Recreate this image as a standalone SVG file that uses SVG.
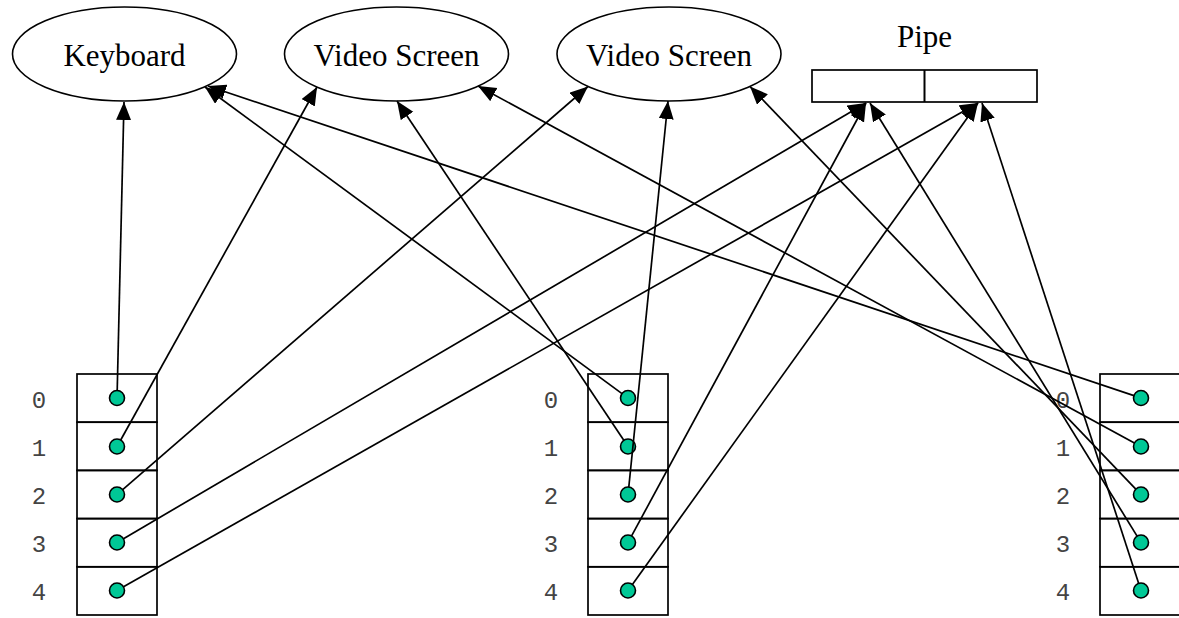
<svg xmlns="http://www.w3.org/2000/svg" width="1179" height="618" viewBox="0 0 1179 618">
<defs>
<style>
.ell{fill:#fff;stroke:#000;stroke-width:1.6}
.lbl{font-family:"Liberation Serif","Times New Roman",serif;font-size:31px;fill:#000;text-anchor:middle}
.cell{fill:none;stroke:#000;stroke-width:1.7}
.dot{fill:#00c896;stroke:#000;stroke-width:1.6}
.idx{font-family:"Liberation Mono","Courier New",monospace;font-size:24px;fill:#444;text-anchor:middle}
.conn line{stroke:#000;stroke-width:1.7;marker-end:url(#arr)}
</style>
<marker id="arr" markerUnits="userSpaceOnUse" markerWidth="20" markerHeight="16" refX="18" refY="7.5" orient="auto">
<path d="M0,0 L18,7.5 L0,15 Z" fill="#000"/>
</marker>
</defs>
<rect width="1179" height="618" fill="#fff"/>
<g id="keyboard"><ellipse class="ell" cx="124.5" cy="54" rx="112" ry="47"/><text class="lbl" x="124.5" y="66">Keyboard</text></g>
<g id="screen1"><ellipse class="ell" cx="396.5" cy="54" rx="112" ry="47"/><text class="lbl" x="396.5" y="66">Video Screen</text></g>
<g id="screen2"><ellipse class="ell" cx="669" cy="54" rx="112" ry="47"/><text class="lbl" x="669" y="66">Video Screen</text></g>
<g id="pipe"><text class="lbl" x="924.5" y="47">Pipe</text><rect class="cell" x="812" y="70" width="225" height="32" fill="#fff"/><line x1="924.5" y1="70" x2="924.5" y2="102" stroke="#000" stroke-width="2"/></g>
<g id="table-left">
<rect class="cell" x="77" y="374" width="80" height="48.2"/><rect class="cell" x="77" y="422.2" width="80" height="48.2"/><rect class="cell" x="77" y="470.4" width="80" height="48.2"/><rect class="cell" x="77" y="518.6" width="80" height="48.2"/><rect class="cell" x="77" y="566.8" width="80" height="48.2"/>
<circle class="dot" cx="117" cy="398" r="7.5"/><circle class="dot" cx="117" cy="446.5" r="7.5"/><circle class="dot" cx="117" cy="494.5" r="7.5"/><circle class="dot" cx="117" cy="542.5" r="7.5"/><circle class="dot" cx="117" cy="590.5" r="7.5"/>
<text class="idx" x="39" y="408">0</text><text class="idx" x="39" y="456">1</text><text class="idx" x="39" y="504">2</text><text class="idx" x="39" y="552">3</text><text class="idx" x="39" y="600">4</text>
</g>
<g id="table-mid">
<rect class="cell" x="588" y="374" width="80" height="48.2"/><rect class="cell" x="588" y="422.2" width="80" height="48.2"/><rect class="cell" x="588" y="470.4" width="80" height="48.2"/><rect class="cell" x="588" y="518.6" width="80" height="48.2"/><rect class="cell" x="588" y="566.8" width="80" height="48.2"/>
<circle class="dot" cx="628" cy="398" r="7.5"/><circle class="dot" cx="628" cy="446.5" r="7.5"/><circle class="dot" cx="628" cy="494.5" r="7.5"/><circle class="dot" cx="628" cy="542.5" r="7.5"/><circle class="dot" cx="628" cy="590.5" r="7.5"/>
<text class="idx" x="551" y="408">0</text><text class="idx" x="551" y="456">1</text><text class="idx" x="551" y="504">2</text><text class="idx" x="551" y="552">3</text><text class="idx" x="551" y="600">4</text>
</g>
<g id="table-right">
<rect class="cell" x="1100" y="374" width="80" height="48.2"/><rect class="cell" x="1100" y="422.2" width="80" height="48.2"/><rect class="cell" x="1100" y="470.4" width="80" height="48.2"/><rect class="cell" x="1100" y="518.6" width="80" height="48.2"/><rect class="cell" x="1100" y="566.8" width="80" height="48.2"/>
<circle class="dot" cx="1141" cy="398" r="7.5"/><circle class="dot" cx="1141" cy="446.5" r="7.5"/><circle class="dot" cx="1141" cy="494.5" r="7.5"/><circle class="dot" cx="1141" cy="542.5" r="7.5"/><circle class="dot" cx="1141" cy="590.5" r="7.5"/>
<text class="idx" x="1063" y="408">0</text><text class="idx" x="1063" y="456">1</text><text class="idx" x="1063" y="504">2</text><text class="idx" x="1063" y="552">3</text><text class="idx" x="1063" y="600">4</text>
</g>
<g id="connectors" class="conn">
<line x1="117.2" y1="390.5" x2="124" y2="102"/>
<line x1="120.7" y1="440" x2="317" y2="87"/>
<line x1="122.7" y1="489.6" x2="588" y2="86.5"/>
<line x1="123.5" y1="538.7" x2="866" y2="103"/>
<line x1="123.5" y1="586.8" x2="978" y2="103"/>
<line x1="622" y1="393.6" x2="205" y2="87"/>
<line x1="623.8" y1="440.3" x2="397" y2="101"/>
<line x1="628.8" y1="487" x2="668" y2="101"/>
<line x1="631.6" y1="535.9" x2="866" y2="103"/>
<line x1="632.4" y1="584.4" x2="978" y2="103"/>
<line x1="1133.9" y1="395.6" x2="208" y2="86"/>
<line x1="1134.4" y1="442.9" x2="478" y2="86"/>
<line x1="1135.8" y1="489.1" x2="750" y2="86.5"/>
<line x1="1137.1" y1="536.1" x2="870" y2="103"/>
<line x1="1138.7" y1="583.4" x2="982" y2="103"/>
</g>
</svg>
